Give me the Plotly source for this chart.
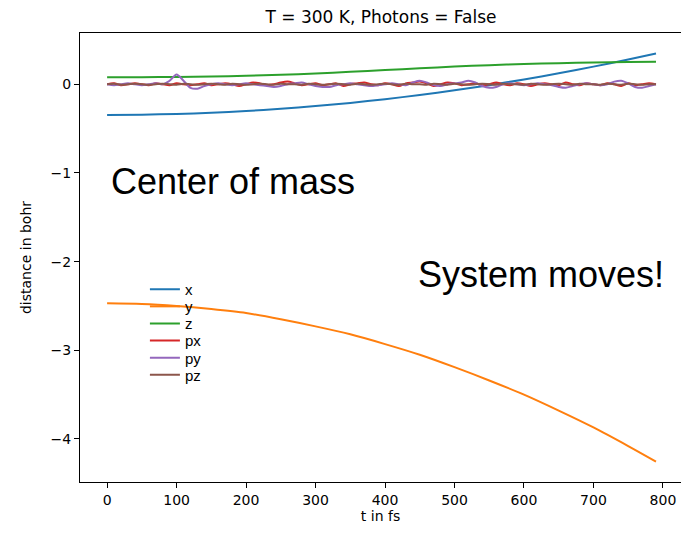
import plotly.graph_objects as go

# ---- data ----
t_smooth = [0, 50, 100, 150, 200, 250, 300, 350, 400, 450, 500, 550, 600, 650, 700, 750, 790]
x_vals = [-0.346, -0.343, -0.335, -0.321, -0.302, -0.277, -0.246, -0.210, -0.168, -0.121,
          -0.068, -0.010, 0.054, 0.124, 0.199, 0.280, 0.348]
y_vals = [-2.47, -2.477, -2.50, -2.535, -2.58, -2.65, -2.73, -2.82, -2.93, -3.05,
          -3.19, -3.34, -3.50, -3.68, -3.87, -4.08, -4.255]
z_vals = [0.080, 0.080, 0.082, 0.087, 0.095, 0.107, 0.122, 0.140, 0.160, 0.180,
          0.200, 0.215, 0.228, 0.238, 0.245, 0.250, 0.253]

t_fine = [0, 10, 20, 30, 40, 50, 60, 70, 80, 90,
          100, 110, 120, 130, 140, 150, 160, 170, 180, 190,
          200, 210, 220, 230, 240, 250, 260, 270, 280, 290,
          300, 310, 320, 330, 340, 350, 360, 370, 380, 390,
          400, 410, 420, 430, 440, 450, 460, 470, 480, 490,
          500, 510, 520, 530, 540, 550, 560, 570, 580, 590,
          600, 610, 620, 630, 640, 650, 660, 670, 680, 690,
          700, 710, 720, 730, 740, 750, 760, 770, 780, 790]
px_vals = [0.00, 0.01, -0.01, 0.00, 0.01, 0.00, -0.01, 0.01, 0.00, -0.01,
           0.01, 0.00, -0.01, 0.00, 0.01, -0.01, 0.00, 0.01, 0.00, -0.02,
           0.00, 0.02, 0.01, -0.01, 0.00, 0.02, 0.03, 0.01, -0.01, 0.00,
           0.01, -0.01, 0.00, 0.01, -0.02, 0.00, 0.01, 0.02, 0.00, -0.01,
           0.01, 0.00, -0.02, 0.01, 0.02, 0.03, 0.01, -0.02, 0.00, 0.02,
           0.01, -0.01, 0.00, 0.01, -0.01, 0.00, 0.02, 0.00, -0.01, 0.01,
           0.00, -0.02, 0.00, 0.01, 0.00, -0.01, 0.02, 0.00, -0.01, 0.01,
           0.00, -0.01, 0.01, 0.00, -0.02, 0.01, -0.01, 0.00, 0.01, 0.00]
py_vals = [0.00, -0.01, 0.00, 0.01, 0.00, -0.01, 0.00, 0.01, 0.00, 0.04,
           0.11, 0.04, -0.04, -0.05, -0.02, 0.00, 0.01, 0.00, -0.01, 0.00,
           0.01, 0.00, -0.01, -0.02, -0.03, -0.02, 0.00, 0.01, 0.02, 0.00,
           -0.02, -0.03, -0.03, -0.01, 0.00, 0.01, 0.00, -0.01, -0.02, -0.01,
           0.00, 0.01, 0.00, -0.01, 0.02, 0.04, 0.02, -0.01, -0.02, 0.00,
           0.01, 0.02, 0.04, 0.02, -0.02, -0.04, -0.03, 0.00, 0.01, 0.00,
           -0.01, 0.00, 0.01, 0.00, -0.01, -0.03, -0.04, -0.02, 0.00, 0.01,
           0.00, -0.01, 0.00, 0.03, 0.04, 0.01, -0.03, -0.04, -0.02, 0.00]
pz_vals = [0.000, 0.005, -0.005, 0.000, 0.005, 0.000, -0.005, 0.000, 0.005, 0.000,
           -0.005, 0.005, 0.000, -0.005, 0.000, 0.005, 0.000, -0.005, 0.005, 0.000,
           -0.005, 0.000, 0.005, 0.000, -0.005, 0.005, 0.000, 0.000, -0.005, 0.005,
           0.000, -0.005, 0.000, 0.005, 0.000, -0.005, 0.005, 0.000, -0.005, 0.000,
           0.005, 0.000, -0.005, 0.005, 0.000, 0.000, -0.005, 0.005, 0.000, -0.005,
           0.005, 0.000, -0.005, 0.000, 0.005, 0.000, -0.005, 0.005, 0.000, 0.000,
           -0.005, 0.005, 0.000, -0.005, 0.000, 0.005, 0.000, -0.005, 0.005, 0.000,
           0.000, -0.005, 0.005, 0.000, -0.005, 0.005, 0.000, -0.005, 0.000, 0.000]

labels = ["x", "y", "z", "px", "py", "pz"]
colors = ["#1f77b4", "#ff7f0e", "#2ca02c", "#d62728", "#9467bd", "#8c564b"]

title_text = "T = 300 K, Photons = False"
xlabel = "t in fs"
ylabel = "distance in bohr"
note1 = "Center of mass"
note2 = "System moves!"

series = [
    (t_smooth, x_vals),
    (t_smooth, y_vals),
    (t_smooth, z_vals),
    (t_fine, px_vals),
    (t_fine, py_vals),
    (t_fine, pz_vals),
]

fig = go.Figure()
legend_names = ["legend", "legend2", "legend3", "legend4", "legend5", "legend6"]
for i, ((tt, vv), lab, col) in enumerate(zip(series, labels, colors)):
    fig.add_trace(go.Scatter(
        x=tt, y=vv, mode="lines", name=lab,
        line=dict(color=col, width=2, shape="spline", smoothing=0.8),
        legend=legend_names[i], showlegend=True,
    ))

# legend rows (one legend box per entry for matplotlib-like tight spacing)
plot_top, plot_bottom = 33, 482
row_h = 17.1
first_row_center = 289.5
leg_layout = {}
for i, nm in enumerate(legend_names):
    cy = first_row_center + i * row_h
    ypaper = (plot_bottom - cy) / (plot_bottom - plot_top)
    leg_layout[nm] = dict(
        x=0.108, y=ypaper, xanchor="left", yanchor="middle",
        bgcolor="rgba(0,0,0,0)", borderwidth=0,
        font=dict(family="Liberation Sans, Arial, sans-serif", size=15, color="#000"),
        itemwidth=30, tracegroupgap=0,
    )

axis_font = dict(family="DejaVu Sans, sans-serif", size=14, color="#000")

fig.update_layout(
    width=681, height=534,
    margin=dict(l=80, r=0, t=33, b=52),
    paper_bgcolor="white", plot_bgcolor="white",
    title=dict(text=title_text, x=(80 + 682) / 2 / 681, xanchor="center",
               y=1 - 17 / 534, yanchor="middle",
               font=dict(family="DejaVu Sans, sans-serif", size=17, color="#000")),
    xaxis=dict(range=[-39, 826], tickvals=[0, 100, 200, 300, 400, 500, 600, 700, 800],
               ticks="outside", ticklen=5, tickwidth=1.2, tickcolor="#000",
               showline=True, linecolor="#000", linewidth=1.3, mirror=True,
               showgrid=False, zeroline=False, tickfont=axis_font,
               title=dict(text=xlabel, font=axis_font, standoff=4)),
    yaxis=dict(range=[-4.485, 0.578], tickvals=[0, -1, -2, -3, -4],
               ticktext=["0", "\u22121", "\u22122", "\u22123", "\u22124"],
               ticks="outside", ticklen=5, tickwidth=1.2, tickcolor="#000",
               showline=True, linecolor="#000", linewidth=1.3, mirror=False,
               showgrid=False, zeroline=False, tickfont=axis_font,
               title=dict(text=ylabel, font=axis_font, standoff=15)),
    annotations=[
        dict(text=note1, x=3, y=-1.1, xref="x", yref="y", xanchor="left", yanchor="middle",
             showarrow=False, font=dict(family="Liberation Sans, Arial, sans-serif", size=36, color="#000")),
        dict(text=note2, x=444, y=-2.14, xref="x", yref="y", xanchor="left", yanchor="middle",
             showarrow=False, font=dict(family="Liberation Sans, Arial, sans-serif", size=36, color="#000")),
    ],
    **leg_layout,
)

fig.write_html("out.html")
